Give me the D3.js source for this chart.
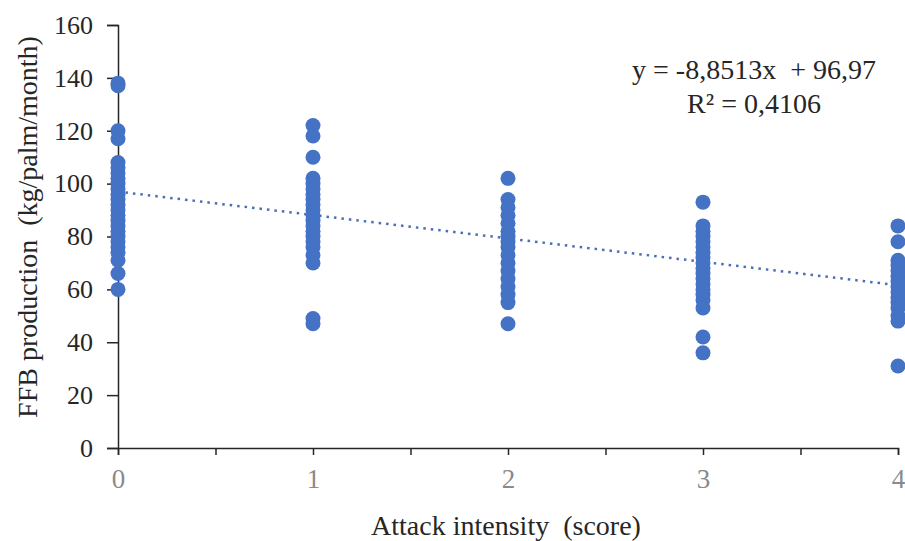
<!DOCTYPE html>
<html>
<head>
<meta charset="utf-8">
<script src="https://cdn.jsdelivr.net/npm/d3@7"></script>
<style>
  body { margin: 0; background: #fff; }
  text { font-family: "Liberation Serif", "Times New Roman", serif; }
</style>
</head>
<body>
<div id="chart"></div>
<script>
// FFB production per attack intensity score
const score0 = [138, 137, 120, 117, 108, 106, 104, 102, 100, 98, 96, 94, 92, 90, 88, 86, 84, 82, 80, 78, 76, 74, 71, 66, 60];
const score1 = [122, 118, 110, 102, 100, 98, 96, 94, 92, 90, 88, 86, 84, 82, 80, 78, 76, 73, 70, 49, 47];
const score2 = [102, 94, 91, 88, 85, 82, 80, 78, 76, 73, 70, 67, 64, 61, 58, 55, 47];
const score3 = [93, 84, 82, 80, 78, 76, 74, 72, 70, 68, 66, 64, 62, 60, 58, 56, 53, 42, 36];
const score4 = [84, 78, 71, 69, 67, 65, 63, 61, 59, 57, 55, 53, 50, 48, 31];
const scores = [0, 1, 2, 3, 4];
const yTicks = [0, 20, 40, 60, 80, 100, 120, 140, 160];
const xTicks = [0, 0.5, 1, 1.5, 2, 2.5, 3, 3.5, 4];

// trendline
const slope = -8.8513;
const intercept = 96.97;
const r2 = 0.4106;

const width = 905;
const height = 541;
const margin = { top: 25, right: 7, bottom: 93, left: 118 };

const svg = d3.select("#chart")
    .append("svg")
    .attr("width", width)
    .attr("height", height);

const x = d3.scaleLinear()
    .domain([0, 4])
    .range([margin.left, width - margin.right]);

const y = d3.scaleLinear()
    .domain([0, 160])
    .range([height - margin.bottom, margin.top]);

const points = [score0, score1, score2, score3, score4]
    .flatMap((vals, i) => vals.map(v => ({ x: scores[i], y: v })));

// y axis
const yAxis = svg.append("g")
    .attr("transform", `translate(${margin.left},0)`)
    .call(d3.axisLeft(y).tickValues(yTicks).tickSize(11).tickPadding(14));
yAxis.select(".domain").attr("stroke", "#262626").attr("stroke-width", 1.5);
yAxis.selectAll(".tick line").attr("stroke", "#262626").attr("stroke-width", 1.5);
yAxis.selectAll(".tick text")
    .style("font-size", "26px")
    .attr("fill", "#262626");

// x axis
const xAxis = svg.append("g")
    .attr("transform", `translate(0,${height - margin.bottom})`)
    .call(d3.axisBottom(x).tickValues(xTicks).tickSize(7).tickPadding(14)
        .tickFormat(d => Number.isInteger(d) ? d : ""));
xAxis.select(".domain").attr("stroke", "#262626").attr("stroke-width", 1.5);
xAxis.selectAll(".tick line").attr("stroke", "#262626").attr("stroke-width", 1.5);
xAxis.selectAll(".tick text")
    .style("font-size", "27px")
    .attr("fill", "#8a8a8a");

// trendline (dotted), markers drawn over it
svg.append("line")
    .attr("x1", x(0))
    .attr("y1", y(intercept))
    .attr("x2", x(4))
    .attr("y2", y(intercept + slope * 4))
    .attr("stroke", "#4a6fb8")
    .attr("stroke-width", 2.5)
    .attr("stroke-dasharray", "2.5,5");

svg.append("g")
    .selectAll("circle")
    .data(points)
    .enter().append("circle")
    .attr("cx", d => x(d.x))
    .attr("cy", d => y(d.y))
    .attr("r", 7.5)
    .attr("fill", "#4472C4");

// equation
const eq = svg.append("text")
    .attr("text-anchor", "middle")
    .attr("fill", "#262626")
    .style("font-size", "28px")
    .style("white-space", "pre");
eq.append("tspan")
    .attr("x", 754)
    .attr("y", 79)
    .text(`y = ${String(slope).replace(".", ",")}x  + ${String(intercept).replace(".", ",")}`);
eq.append("tspan")
    .attr("x", 754)
    .attr("y", 113)
    .text(`R² = ${String(r2).replace(".", ",")}`);

// axis titles
svg.append("text")
    .attr("x", 506)
    .attr("y", 535)
    .attr("text-anchor", "middle")
    .attr("fill", "#262626")
    .style("font-size", "28px")
    .style("white-space", "pre")
    .text("Attack intensity  (score)");

svg.append("text")
    .attr("transform", `translate(37,227) rotate(-90)`)
    .attr("text-anchor", "middle")
    .attr("fill", "#262626")
    .style("font-size", "28px")
    .style("white-space", "pre")
    .text("FFB production  (kg/palm/month)");
</script>
</body>
</html>
